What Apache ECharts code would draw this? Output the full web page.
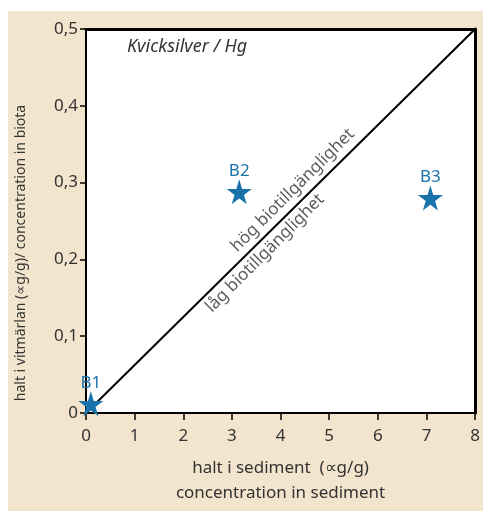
<!DOCTYPE html>
<html><head><meta charset="utf-8">
<script src="https://cdn.jsdelivr.net/npm/echarts@6/dist/echarts.min.js"></script>
<style>html,body{margin:0;padding:0;background:#fff}#c{width:483px;height:511px}</style>
</head><body><div id="c"></div>
<script>
const stationNames = ['B1', 'B2', 'B3'];
const sedimentConc = [0.1, 3.15, 7.08];
const biotaConc = [0.012, 0.288, 0.28];
const diagonal = [[0, 0], [8, 0.5]];
const xTicks = [0, 1, 2, 3, 4, 5, 6, 7, 8];
const yTicks = ['0', '0,1', '0,2', '0,3', '0,4', '0,5'];
const zoneLabels = ['hög biotillgänglighet', 'låg biotillgänglighet'];
const zoneAnchors = [[4.25, 0.29], [3.68, 0.208]];

const FONT = '"Noto Sans", "Open Sans", sans-serif';
const TXT = '#333';
const BLUE = '#1a72ab';
const star = 'path://M50,0 L61,35 L98,35 L68,57 L79,91 L50,70 L21,91 L32,57 L2,35 L39,35 Z';

const chart = echarts.init(document.getElementById('c'), null, {renderer: 'canvas'});
chart.setOption({
  backgroundColor: '#fff',
  animation: false,
  graphic: [
    {type: 'rect', z: -10, shape: {x: 8, y: 11, width: 475, height: 500}, style: {fill: '#f3e4cd'}},
    {type: 'text', left: 127, top: 38, style: {text: 'Kvicksilver / Hg', font: 'italic 18px ' + FONT, fill: TXT}},
    {type: 'text', x: 21, y: 253, rotation: Math.PI / 2,
      style: {text: 'halt i vitmärlan (∝g/g)/ concentration in biota', font: '14px ' + FONT, fill: TXT,
        align: 'center', verticalAlign: 'middle'}, originX: 0, originY: 0}
  ],
  grid: {left: 86, right: 6, top: 29, bottom: 94, show: true, backgroundColor: '#fff', borderWidth: 0},
  xAxis: [{
    type: 'value', min: 0, max: 8, interval: 1, position: 'bottom',
    axisLine: {lineStyle: {color: '#000', width: 2}},
    axisTick: {show: true, length: 7, inside: false, lineStyle: {color: '#000', width: 1.5}},
    axisLabel: {color: TXT, fontSize: 17, fontFamily: FONT, margin: 15,
      formatter: v => String(xTicks[Math.round(v)])},
    splitLine: {show: false},
    name: 'halt i sediment  (∝g/g)\nconcentration in sediment',
    nameLocation: 'middle', nameGap: 43,
    nameTextStyle: {color: TXT, fontSize: 17, fontFamily: FONT, lineHeight: 25, verticalAlign: 'top'}
  }, {
    type: 'value', min: 0, max: 8, position: 'top',
    axisLine: {show: true, onZero: false, lineStyle: {color: '#000', width: 3}},
    axisTick: {show: false}, axisLabel: {show: false}, splitLine: {show: false}
  }],
  yAxis: [{
    type: 'value', min: 0, max: 0.5, interval: 0.1, position: 'left',
    axisLine: {show: true, lineStyle: {color: '#000', width: 2}},
    axisTick: {show: true, length: 6, lineStyle: {color: '#000', width: 1.5}},
    axisLabel: {color: TXT, fontSize: 17, fontFamily: FONT, margin: 8,
      formatter: v => yTicks[Math.round(v * 10)]},
    splitLine: {show: false}
  }, {
    type: 'value', min: 0, max: 0.5, position: 'right',
    axisLine: {show: true, onZero: false, lineStyle: {color: '#000', width: 3}},
    axisTick: {show: false}, axisLabel: {show: false}, splitLine: {show: false}
  }],
  series: [{
    type: 'line', data: diagonal, symbol: 'none',
    lineStyle: {color: '#000', width: 2}, z: 2
  }, {
    type: 'scatter',
    data: zoneLabels.map((t, i) => ({value: zoneAnchors[i], name: t})),
    symbolSize: 1, itemStyle: {color: 'rgba(0,0,0,0)'},
    label: {show: true, position: 'inside', rotate: 45, formatter: p => p.name,
      color: TXT, fontSize: 17, fontFamily: FONT},
    z: 3
  }, {
    type: 'scatter',
    data: stationNames.map((n, i) => ({value: [sedimentConc[i], biotaConc[i]], name: n})),
    symbol: star, symbolSize: 25,
    itemStyle: {color: BLUE, opacity: 1},
    label: {show: true, position: 'top', distance: 0, formatter: p => p.name,
      color: BLUE, fontSize: 17, fontFamily: FONT},
    z: 5
  }]
});
</script></body></html>
